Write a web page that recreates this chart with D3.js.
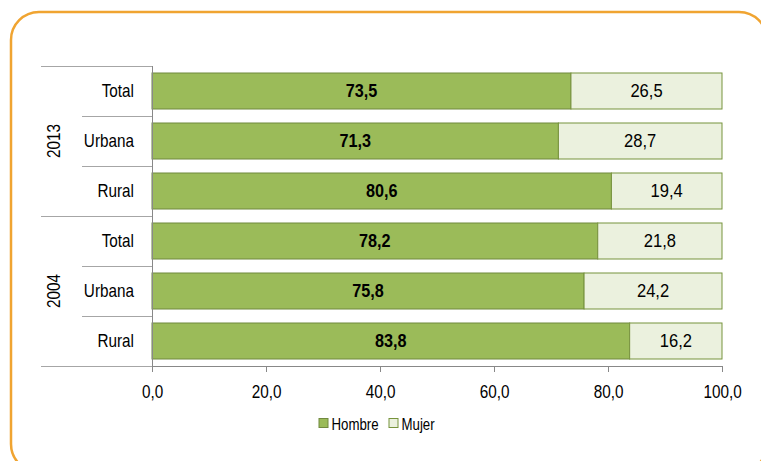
<!DOCTYPE html>
<html>
<head>
<meta charset="utf-8">
<script src="https://cdn.jsdelivr.net/npm/d3@7"></script>
<style>
  body { margin: 0; background: #fff; }
  svg { display: block; font-family: "Liberation Sans", Arial, sans-serif; }
</style>
</head>
<body>
<div id="chart-area"></div>
<script>
// data
let years = ["2013", "2004"]
let zones = ["Total", "Urbana", "Rural"]
let hombre = [73.5, 71.3, 80.6, 78.2, 75.8, 83.8]
let mujer = [26.5, 28.7, 19.4, 21.8, 24.2, 16.2]
let xTicks = [0, 20, 40, 60, 80, 100]
let series = ["Hombre", "Mujer"]

let width = 761
let height = 461

let rows = []
years.forEach((yr, gi) => {
  zones.forEach((z, zi) => {
    let i = gi * zones.length + zi
    rows.push({key: yr + "-" + z, year: yr, zone: z, hombre: hombre[i], mujer: mujer[i]})
  })
})

let fmt = v => d3.format(".1f")(v).replace(".", ",")
// squeeze Arial-like text horizontally so it looks like Arial Narrow
let place = (px, py, s) => "translate(" + px + "," + py + ") scale(" + s + ",1)"

let svg = d3.select("#chart-area")
  .append("svg")
    .attr("width", width)
    .attr("height", height)

// orange frame
svg.append("rect")
  .attr("x", 11).attr("y", 12)
  .attr("width", 756).attr("height", 460)
  .attr("rx", 28).attr("ry", 28)
  .attr("fill", "none")
  .attr("stroke", "#F0A431")
  .attr("stroke-width", 2.5)

let x = d3.scaleLinear().domain([0, 100]).range([152, 722])
let y = d3.scaleBand().domain(rows.map(d => d.key)).range([66, 366])
  .paddingInner(0.28).paddingOuter(0.14)
let step = y.step()
let top0 = 66
let bottom0 = top0 + rows.length * step

let g = svg.append("g")

// category separators on the left
let grid = "#a6a6a6"
d3.range(rows.length + 1).forEach(i => {
  let yy = top0 + i * step
  let isGroup = i % zones.length === 0
  g.append("line")
    .attr("x1", isGroup ? 41 : 82).attr("x2", 152)
    .attr("y1", yy + 0.5).attr("y2", yy + 0.5)
    .attr("stroke", grid).attr("stroke-width", 1)
})

// bars
let bars = g.selectAll(".row").data(rows).enter().append("g").attr("class", "row")

bars.append("rect")
  .attr("x", x(0))
  .attr("y", d => y(d.key))
  .attr("width", d => x(d.hombre) - x(0))
  .attr("height", y.bandwidth())
  .attr("fill", "#9BBB59")
  .attr("stroke", "#71893F")
  .attr("stroke-width", 1)

bars.append("rect")
  .attr("x", d => x(d.hombre))
  .attr("y", d => y(d.key))
  .attr("width", d => x(d.hombre + d.mujer) - x(d.hombre))
  .attr("height", y.bandwidth())
  .attr("fill", "#EBF1DE")
  .attr("stroke", "#77933C")
  .attr("stroke-width", 1)

bars.append("text")
  .attr("transform", d => place((x(0) + x(d.hombre)) / 2, y(d.key) + y.bandwidth() / 2, 0.9))
  .attr("dy", "0.36em")
  .attr("text-anchor", "middle")
  .attr("font-size", "18px")
  .attr("font-weight", "bold")
  .attr("fill", "#000")
  .text(d => fmt(d.hombre))

bars.append("text")
  .attr("transform", d => place((x(d.hombre) + x(d.hombre + d.mujer)) / 2, y(d.key) + y.bandwidth() / 2, 0.92))
  .attr("dy", "0.36em")
  .attr("text-anchor", "middle")
  .attr("font-size", "18px")
  .attr("fill", "#000")
  .text(d => fmt(d.mujer))

// zone labels
g.selectAll(".zone").data(rows).enter().append("text")
  .attr("class", "zone")
  .attr("transform", d => place(134, y(d.key) + y.bandwidth() / 2, 0.85))
  .attr("dy", "0.36em")
  .attr("text-anchor", "end")
  .attr("font-size", "18px")
  .text(d => d.zone)

// year labels
years.forEach((yr, gi) => {
  let cy = top0 + (gi + 0.5) * zones.length * step
  g.append("text")
    .attr("transform", "translate(60," + cy + ") rotate(-90) scale(0.85,1)")
    .attr("text-anchor", "middle")
    .attr("font-size", "18px")
    .text(yr)
})

// bottom axis
let bottomAxis = d3.axisBottom(x).tickValues(xTicks).tickFormat(fmt).tickSize(6).tickSizeOuter(0)
let ax = g.append("g")
  .attr("class", "bottom axis")
  .attr("transform", "translate(0," + bottom0 + ")")
  .call(bottomAxis)
ax.select(".domain").attr("stroke", "#888")
ax.selectAll(".tick line").attr("stroke", "#888")
ax.selectAll("text")
  .attr("font-family", null)
  .attr("font-size", "18px")
  .attr("fill", "#000")
  .attr("y", null)
  .attr("dy", "0.36em")
  .attr("transform", place(0, 26, 0.85))

// left axis line
g.append("line")
  .attr("x1", 152.5).attr("x2", 152.5)
  .attr("y1", top0).attr("y2", bottom0 + 6)
  .attr("stroke", "#888")

// legend
let legendX = [319, 389]
let legendFill = ["#9BBB59", "#EBF1DE"]
let legendStroke = ["#71893F", "#77933C"]
let leg = g.selectAll(".legend").data(series).enter().append("g")
  .attr("class", "legend")
  .attr("transform", (d, i) => "translate(" + legendX[i] + ",418.5)")
leg.append("rect")
  .attr("width", 9).attr("height", 9)
  .attr("fill", (d, i) => legendFill[i])
  .attr("stroke", (d, i) => legendStroke[i])
leg.append("text")
  .attr("transform", place(12.5, 5.5, 0.78))
  .attr("dy", "0.36em")
  .attr("font-size", "17px")
  .text(d => d)
</script>
</body>
</html>
